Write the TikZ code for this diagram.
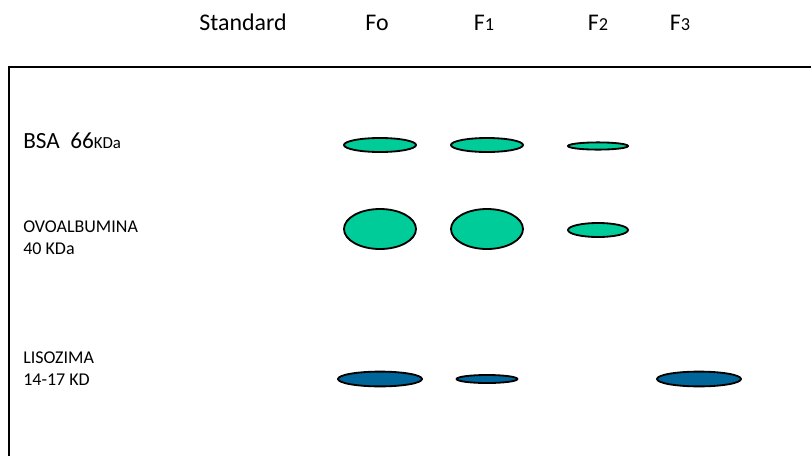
\documentclass[tikz,border=0pt]{standalone}
\usepackage{fontspec}
\setmainfont{Carlito}
\usetikzlibrary{shapes.geometric}
\definecolor{gelgreen}{HTML}{00CC99}
\definecolor{gelblue}{HTML}{006699}

\begin{document}
\begin{tikzpicture}[x=0.025cm,y=-0.025cm,
    lane/.style={anchor=base,font=\fontsize{17}{20}\selectfont},
    marker/.style={anchor=base west,align=left,inner sep=0pt,font=\fontsize{12.8}{15.6}\selectfont},
    band/.style={ellipse,draw=black,line width=1.3pt,inner sep=0pt}]
  \useasboundingbox (0,0) rectangle (811,455);
  % gel frame, only top and left edges fall inside the picture
  \draw[line width=1.3pt] (9,460) -- (9,67) -- (816,67);

  % lane headings
  \node[lane] (std) at (243,30) {Standard};
  \node[lane] (fo)  at (377,30) {Fo};
  \node[lane] (fi)  at (484,30) {F{\fontsize{13}{15}\selectfont 1}};
  \node[lane] (fii) at (598,30) {F{\fontsize{13}{15}\selectfont 2}};
  \node[lane] (fiii) at (680,30) {F{\fontsize{13}{15}\selectfont 3}};

  % molecular weight markers (base = last line)
  \node[marker,font=\fontsize{16.5}{20}\selectfont] (bsa) at (23,148)
    {BSA\ \ 66{\fontsize{12}{14}\selectfont KDa}};
  \node[marker] (ovo) at (23,254) {OVOALBUMINA\\40 KDa};
  \node[marker] (lis) at (23,385) {LISOZIMA\\14-17 KD};

  % bands
  \node[band,fill=gelgreen,minimum width=1.8cm,minimum height=0.35cm] (bsaFo) at (380,145) {};
  \node[band,fill=gelgreen,minimum width=1.8cm,minimum height=0.35cm] (bsaFi) at (487,145) {};
  \node[band,fill=gelgreen,minimum width=1.5cm,minimum height=0.18cm] (bsaFii) at (598,146) {};

  \node[band,fill=gelgreen,minimum width=1.8cm,minimum height=1.0cm] (ovoFo) at (380,229) {};
  \node[band,fill=gelgreen,minimum width=1.8cm,minimum height=1.0cm] (ovoFi) at (487,229) {};
  \node[band,fill=gelgreen,minimum width=1.5cm,minimum height=0.35cm] (ovoFii) at (598,230) {};

  \node[band,fill=gelblue,minimum width=2.1cm,minimum height=0.37cm] (lisFo) at (380,379) {};
  \node[band,fill=gelblue,minimum width=1.52cm,minimum height=0.2cm] (lisFi) at (487,379) {};
  \node[band,fill=gelblue,minimum width=2.1cm,minimum height=0.37cm] (lisFiii) at (699,379) {};
\end{tikzpicture}
\end{document}
